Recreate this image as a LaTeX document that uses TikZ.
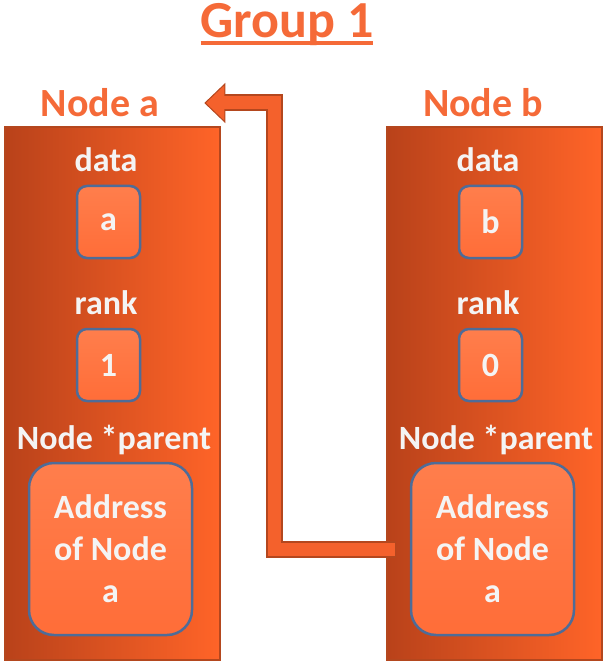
\documentclass[tikz,border=0pt]{standalone}
\usepackage{fontspec}
\setmainfont{Carlito}
\usetikzlibrary{positioning,arrows.meta,calc}
\definecolor{grdark}{HTML}{B9421A}
\definecolor{grbright}{HTML}{FF6428}
\definecolor{grcell}{HTML}{FF6D38}
\definecolor{grcelltop}{HTML}{FF7E4C}
\definecolor{grrim}{HTML}{4E6C98}
\definecolor{grtitle}{HTML}{F56A38}
\definecolor{grlink}{HTML}{F4612C}
\definecolor{grlinkdk}{HTML}{B4471E}
\definecolor{grtext}{HTML}{F4F4F4}
\tikzset{
  nodebox/.style ={draw=grlinkdk, line width=1.5pt, left color=grdark, right color=grbright,
                   minimum width=215pt, minimum height=533pt, inner sep=0pt},
  cell/.style    ={draw=grrim, line width=2.5pt, top color=grcelltop, bottom color=grcell,
                   rounded corners=10pt, inner sep=0pt, text=grtext,
                   font=\fontsize{34}{40}\selectfont\bfseries},
  smallcell/.style={cell, minimum width=63pt, minimum height=72pt},
  bigcell/.style ={cell, rounded corners=25pt, minimum width=163pt, minimum height=172pt,
                   align=center, font=\fontsize{34}{42}\selectfont\bfseries},
  field/.style   ={text=grtext, inner sep=0pt, font=\fontsize{34}{40}\selectfont\bfseries},
  title/.style   ={text=grtitle, inner sep=0pt, font=\fontsize{40}{48}\selectfont\bfseries},
  link/.style    ={line width=17pt, line join=miter, draw=grlinkdk,
                   -{Triangle[length=21pt,width=40pt,line width=1pt,fill=grlink]}},
  linkhi/.style  ={line width=13pt, line join=miter, draw=grlink, shorten >=19pt},
}
\begin{document}
\begin{tikzpicture}[x=1pt,y=-1pt]
  \useasboundingbox (0,0) rectangle (606,668);
  % --- group heading ---
  \node[text=grtitle, inner sep=0pt, font=\fontsize{52}{60}\selectfont\bfseries] (group) at (287,25)
    {\setbox0\hbox{Group 1}\rlap{\rule[-7pt]{\wd0}{3.5pt}}\box0};
  % --- Node a ---
  \begin{scope}
    \node[nodebox] (boxa) at (112.5,393.5) {};
    \node[title] (titlea) at (100,103) {Node a};
    \node[field] (dlaba) at (106,160) {data};
    \node[smallcell] (dataa) at (108.5,222) {a};
    \node[field] (rlaba) at (106,303) {rank};
    \node[smallcell] (ranka) at (108.5,365) {1};
    \node[field] (plaba) at (114,440) {Node *parent};
    \node[bigcell] (para) at (110.5,549) {Address\\of Node\\a};
  \end{scope}
  % --- Node b ---
  \begin{scope}[xshift=382pt]
    \node[nodebox] (boxb) at (112.5,393.5) {};
    \node[title] (titleb) at (101,103) {Node b};
    \node[field] (dlabb) at (106,160) {data};
    \node[smallcell] (datab) at (108.5,222) {b};
    \node[field] (rlabb) at (106,303) {rank};
    \node[smallcell] (rankb) at (108.5,365) {0};
    \node[field] (plabb) at (114,440) {Node *parent};
    \node[bigcell] (parb) at (110.5,549) {Address\\of Node\\a};
  \end{scope}
  % --- parent pointer of b goes to a ---
  \coordinate (tip) at ([xshift=45pt]titlea.east);
  \draw[link] ([xshift=10pt]boxb.west |- parb.center) -| ([xshift=70pt]tip) -- (tip);
  \draw[linkhi] ([xshift=8.5pt]boxb.west |- parb.center) -| ([xshift=70pt]tip) -- (tip);
\end{tikzpicture}
\end{document}
